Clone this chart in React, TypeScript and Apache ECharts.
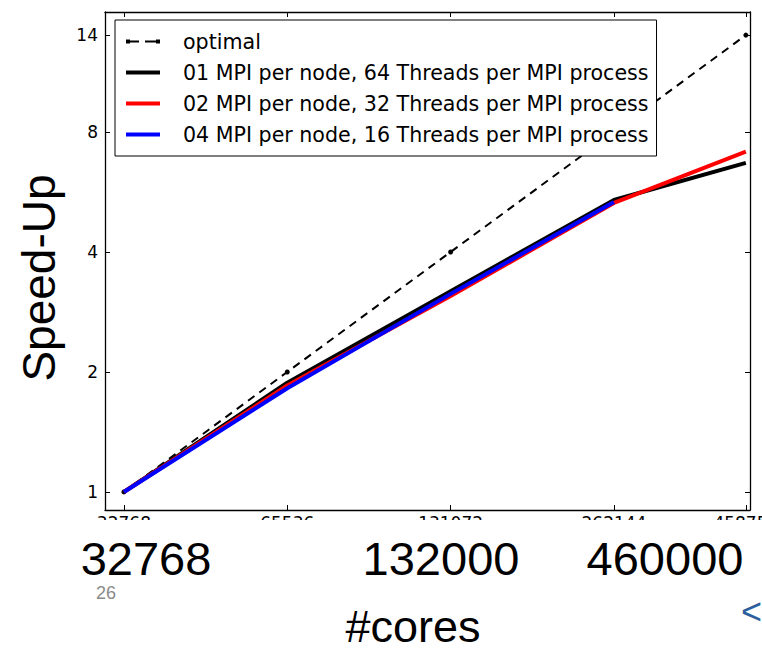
import React, { useEffect, useRef } from "react";
import * as echarts from "echarts";

const xCores = [32768, 65536, 131072, 262144, 458752];
const optimal = [1, 2, 4, 8, 14];
const mpi01 = [1, 1.88, 3.19, 5.4, 6.69];
const mpi02 = [1, 1.85, 3.1, 5.31, 7.14];
const mpi04 = [1, 1.82, 3.14, 5.34];
const yTicks = [1, 2, 4, 8, 14];
const xTicks = [32768, 65536, 131072, 262144, 458752];
const seriesNames = [
  "optimal",
  "01 MPI per node, 64 Threads per MPI process",
  "02 MPI per node, 32 Threads per MPI process",
  "04 MPI per node, 16 Threads per MPI process",
];
const seriesColors = ["#000000", "#000000", "#ff0000", "#0000ff"];
const bigXLabels = ["32768", "132000", "460000"];
const yTitle = "Speed-Up";
const xTitle = "#cores";
const pageNumber = "26";

const pairs = (ys: number[]) => ys.map((y, i) => [xCores[i], y]);

const DASH_ICON = "path://M0,0h4v4h-4zM4,1h9v2h-9zM19,1h11v2h-11zM30,0h4v4h-4z";
const LINE_ICON = "path://M0,0h34v4h-34z";

export default function App() {
  const ref = useRef<HTMLDivElement>(null);
  useEffect(() => {
    if (!ref.current) return;
    const chart = echarts.init(ref.current, null, { renderer: "svg" });
    const fmt = (v: number) => String(Math.round(v));
    const xAxisBase = (pos: "bottom" | "top", labels: boolean) => ({
      type: "log",
      logBase: 2,
      min: 30240,
      max: 466900,
      position: pos,
      axisLine: { show: true, onZero: false, lineStyle: { color: "#000", width: 1.3 } },
      axisTick: { show: true, inside: true, length: 5, customValues: xTicks, lineStyle: { color: "#000", width: 1 } },
      axisLabel: {
        show: labels,
        customValues: xTicks,
        formatter: fmt,
        margin: 7,
        lineHeight: 12,
        fontFamily: "DejaVu Sans",
        fontSize: 17,
        color: "#000",
      },
      splitLine: { show: false },
      minorTick: { show: false },
    });
    const yAxisBase = (pos: "left" | "right", labels: boolean) => ({
      type: "log",
      logBase: 2,
      min: 0.901,
      max: 16,
      position: pos,
      axisLine: { show: true, onZero: false, lineStyle: { color: "#000", width: 1.3 } },
      axisTick: { show: true, inside: true, length: 5, customValues: yTicks, lineStyle: { color: "#000", width: 1 } },
      axisLabel: {
        show: labels,
        customValues: yTicks,
        formatter: fmt,
        margin: 7,
        fontFamily: "DejaVu Sans",
        fontSize: 17,
        color: "#000",
      },
      splitLine: { show: false },
      minorTick: { show: false },
    });
    chart.setOption({
      animation: false,
      backgroundColor: "#fff",
      grid: { left: 105, right: 12, top: 12, bottom: 144, containLabel: false, outerBoundsMode: "none" },
      xAxis: [xAxisBase("bottom", true), xAxisBase("top", false)],
      yAxis: [yAxisBase("left", true), yAxisBase("right", false)],
      legend: {
        left: 115,
        top: 20,
        orient: "vertical",
        itemWidth: 34,
        itemHeight: 4,
        itemGap: 10,
        padding: [11, 8, 11, 11],
        backgroundColor: "#fff",
        borderColor: "#000",
        borderWidth: 1,
        borderRadius: 0,
        textStyle: {
          fontFamily: "DejaVu Sans",
          fontSize: 20.6,
          color: "#000",
          lineHeight: 20,
          padding: [0, 0, 0, 18],
        },
        data: seriesNames.map((n, i) => ({
          name: n,
          icon: i === 0 ? DASH_ICON : LINE_ICON,
          itemStyle: { color: seriesColors[i], borderWidth: 0 },
        })),
      },
      series: [
        {
          name: seriesNames[0],
          type: "line",
          data: pairs(optimal),
          symbol: "circle",
          symbolSize: 5,
          itemStyle: { color: seriesColors[0] },
          lineStyle: { color: seriesColors[0], width: 2, type: [8, 6] },
          z: 2,
        },
        {
          name: seriesNames[1],
          type: "line",
          data: pairs(mpi01),
          symbol: "none",
          itemStyle: { color: seriesColors[1] },
          lineStyle: { color: seriesColors[1], width: 4 },
          z: 3,
        },
        {
          name: seriesNames[2],
          type: "line",
          data: pairs(mpi02),
          symbol: "none",
          itemStyle: { color: seriesColors[2] },
          lineStyle: { color: seriesColors[2], width: 4 },
          z: 4,
        },
        {
          name: seriesNames[3],
          type: "line",
          data: pairs(mpi04),
          symbol: "none",
          itemStyle: { color: seriesColors[3] },
          lineStyle: { color: seriesColors[3], width: 4 },
          z: 5,
        },
      ],
      graphic: [
        { type: "rect", z: 100, shape: { x: 0, y: 520, width: 762, height: 30 }, style: { fill: "#fff" } },
        ...bigXLabels.map((t, i) => ({
          type: "text",
          z: 101,
          x: [146, 441, 665][i],
          y: 558,
          style: { text: t, fontFamily: "Liberation Sans", fontSize: 47, fill: "#000", align: "center", verticalAlign: "middle" },
        })),
        {
          type: "text",
          z: 101,
          x: 39,
          y: 278,
          rotation: Math.PI / 2,
          style: { text: yTitle, fontFamily: "Liberation Sans", fontSize: 46, fill: "#000", align: "center", verticalAlign: "middle" },
        },
        {
          type: "text",
          z: 101,
          x: 413,
          y: 626,
          style: { text: xTitle, fontFamily: "Liberation Sans", fontSize: 45, fill: "#000", align: "center", verticalAlign: "middle" },
        },
        {
          type: "text",
          z: 101,
          x: 106,
          y: 593,
          style: { text: pageNumber, fontFamily: "Liberation Sans", fontSize: 18, fill: "#8a8a8a", align: "center", verticalAlign: "middle" },
        },
        {
          type: "text",
          z: 101,
          x: 762,
          y: 611,
          style: { text: "<", fontFamily: "Liberation Sans", fontSize: 36, fill: "#2b5f9e", align: "right", verticalAlign: "middle" },
        },
      ],
    });
    return () => chart.dispose();
  }, []);
  return <div ref={ref} style={{ position: "fixed", left: 0, top: 0, width: 762, height: 654 }} />;
}
